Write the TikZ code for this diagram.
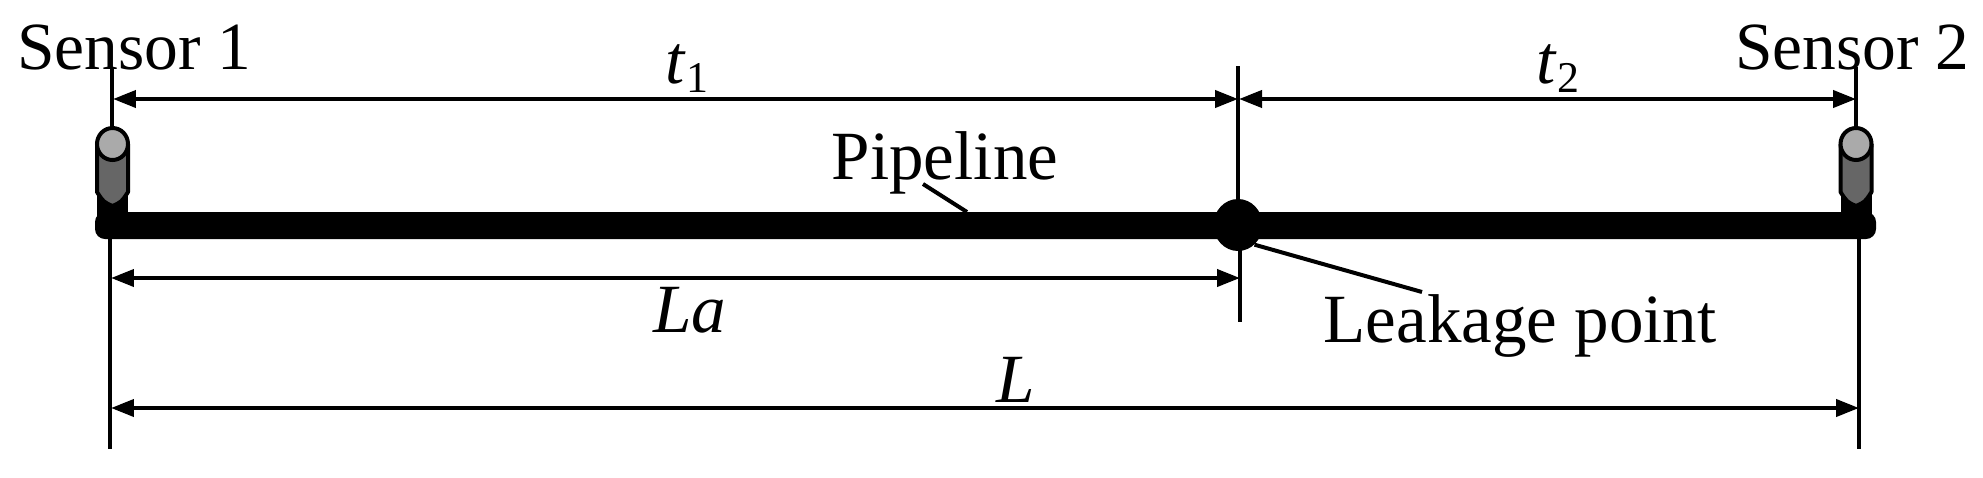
\documentclass[tikz,border=0pt]{standalone}
\usepackage{fontspec}
\setmainfont{Liberation Serif}
\usetikzlibrary{arrows.meta,positioning,shapes.geometric}

\begin{document}
\begin{tikzpicture}[x=0.02cm,y=-0.02cm]
        \tikzset{
            dimline/.style={line width=0.08cm,black},
            dimarrow/.style={dimline,{Triangle[length=0.46cm,width=0.34cm]}-{Triangle[length=0.46cm,width=0.34cm]}},
            lbl/.style={font=\fontsize{39.3}{44}\selectfont,anchor=base,inner sep=0pt},
            sensorlbl/.style={lbl,font=\fontsize{38.4}{44}\selectfont}
        }
        \newcommand{\subnum}[1]{\raisebox{-0.18cm}{\fontsize{25}{28}\selectfont #1}}
        \useasboundingbox (0,0) rectangle (1983,477);
        % named end points of the extension lines
        \coordinate (sa) at (112,67);
        \coordinate (sb) at (1856,67);
        \coordinate (sacap) at (112,126);
        \coordinate (sbcap) at (1856,126);
        \coordinate (lm) at (1238,66);
        \coordinate (lmlow) at (1240,322);
        \coordinate (la) at (110,239);
        \coordinate (lb) at (1859,239);
        \coordinate (laend) at (110,449);
        \coordinate (lbend) at (1859,449);
        \coordinate (lmpipe) at (1240,245);
        % pipe and sensors
        \fill[rounded corners=0.2cm] (95,212) rectangle (1876,239);
        \foreach \sx/\sname in {112.5/sensora,1856/sensorb}{
            \fill (\sx-15.5,190) rectangle (\sx+15.5,225);
            \draw[dimline,fill={rgb,255:red,102;green,102;blue,102},line join=round]
            (\sx-15.5,144) -- (\sx-15.5,192)
            .. controls (\sx-9,202) .. (\sx,206)
            .. controls (\sx+9,202) .. (\sx+15.5,192)
            -- (\sx+15.5,144);
            \node[ellipse,draw,line width=0.08cm,fill={rgb,255:red,170;green,170;blue,170},
            minimum width=0.62cm,minimum height=0.64cm,inner sep=0pt] (\sname) at (\sx,144) {};
        }
        \node[ellipse,fill=black,minimum width=0.98cm,minimum height=1.04cm,inner sep=0pt] (leak) at (1238,225) {};
        % extension lines
        \draw[dimline] (sa) -- (sacap);
        \draw[dimline] (sb) -- (sbcap);
        \draw[dimline] (lm) -- (leak);
        \draw[dimline] (lmpipe) -- (lmlow);
        \draw[dimline] (la) -- (laend);
        \draw[dimline] (lb) -- (lbend);
        % dimensions
        \coordinate (tal) at (113,99);
        \coordinate (tar) at (1238,99);
        \coordinate (tbl) at (1239,99);
        \coordinate (tbr) at (1856,99);
        \coordinate (lal) at (111,278);
        \coordinate (lar) at (1240,278);
        \coordinate (ll) at (111,408);
        \coordinate (lr) at (1859,408);
        \draw[dimarrow] (tal) -- (tar);
        \draw[dimarrow] (tbl) -- (tbr);
        \draw[dimarrow] (lal) -- (lar);
        \draw[dimarrow] (ll) -- (lr);
        % labels
        \node[sensorlbl] (sensoratxt) at (134.5,69) {Sensor 1};
        \node[sensorlbl] (sensorbtxt) at (1852.5,69) {Sensor 2};
        \node[lbl] (talbl) at (687,83) {\textit{t}\subnum{1}};
        \node[lbl] (tblbl) at (1558,83) {\textit{t}\subnum{2}};
        \node[lbl] (pipelbl) at (945,179) {Pipeline};
        \node[lbl] (leaklbl) at (1520,342) {Leakage point};
        \node[lbl] (lalbl) at (690,332) {\textit{La}};
        \node[lbl] (llbl) at (1016,402) {\textit{L}};
        % leaders
        \coordinate (pipeend) at (967,212);
        \coordinate (pipetop) at (923,184);
        \coordinate (leakend) at (1422,292);
        \draw[dimline] (pipetop) -- (pipeend);
        \draw[dimline] (leak.-50) -- (leakend);
    \end{tikzpicture}
\end{document}
